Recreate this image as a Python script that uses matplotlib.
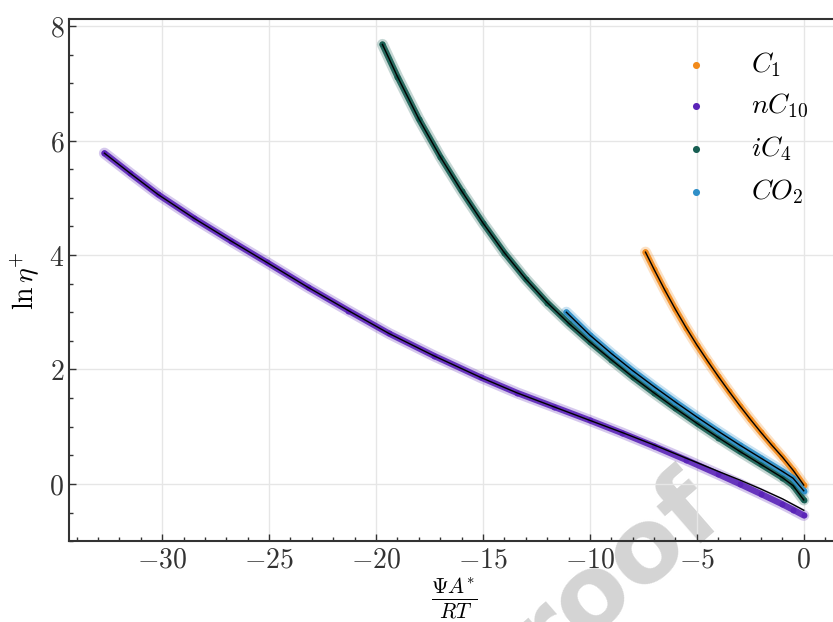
import matplotlib
matplotlib.use("Agg")
from matplotlib import pyplot as plt
from matplotlib.ticker import FuncFormatter, MultipleLocator

plt.rcParams["mathtext.fontset"] = "cm"
plt.rcParams["font.family"] = "serif"
plt.rcParams["font.serif"] = ["DejaVu Serif"]

# scaled residual entropy term vs. log of reduced viscosity
c1_x = [-7.4, -7.0, -6.5, -6.0, -5.5, -5.0, -4.5, -4.0, -3.5, -3.0, -2.5, -2.0, -1.5, -1.0, -0.5, 0.0]
c1_y = [4.05, 3.75, 3.39, 3.05, 2.73, 2.43, 2.15, 1.88, 1.62, 1.37, 1.13, 0.90, 0.68, 0.47, 0.24, -0.02]

nc10_x = [-32.7, -31.5, -30.2, -28.5, -26.8, -25.1, -23.2, -21.3, -19.4, -17.3, -15.1, -13.4,
          -11.7, -10.0, -8.5, -7.0, -5.5, -4.0, -3.0, -2.0, -1.0, -0.5, 0.0]
nc10_y = [5.78, 5.43, 5.06, 4.64, 4.25, 3.87, 3.44, 3.03, 2.63, 2.24, 1.86, 1.59,
          1.35, 1.11, 0.89, 0.66, 0.42, 0.17, 0.00, -0.175, -0.355, -0.45, -0.55]
nc10_fit_y = [5.78, 5.43, 5.06, 4.64, 4.25, 3.87, 3.44, 3.03, 2.63, 2.24, 1.86, 1.59,
              1.35, 1.11, 0.90, 0.68, 0.45, 0.22, 0.07, -0.09, -0.26, -0.36, -0.46]

ic4_x = [-19.7, -19.0, -18.0, -17.0, -16.0, -15.0, -14.0, -13.0, -12.0, -11.0, -10.0,
         -9.0, -8.0, -7.0, -6.0, -5.0, -4.0, -3.0, -2.0, -1.0, -0.5, 0.0]
ic4_y = [7.68, 7.12, 6.38, 5.72, 5.12, 4.56, 4.04, 3.58, 3.17, 2.81, 2.48,
         2.17, 1.87, 1.59, 1.32, 1.06, 0.81, 0.57, 0.34, 0.11, -0.03, -0.28]

co2_x = [-11.1, -10.0, -9.0, -8.0, -7.0, -6.0, -5.0, -4.0, -3.0, -2.0, -1.0, -0.5, 0.0]
co2_y = [3.00, 2.60, 2.28, 1.98, 1.70, 1.43, 1.17, 0.92, 0.68, 0.45, 0.22, 0.10, -0.12]

series = [
    ("$C_1$", c1_x, c1_y, c1_y, "#f28a1a"),
    ("$nC_{10}$", nc10_x, nc10_y, nc10_fit_y, "#5b24b8"),
    ("$iC_4$", ic4_x, ic4_y, ic4_y, "#175e52"),
    ("$CO_2$", co2_x, co2_y, co2_y, "#2f8fc8"),
]

fig = plt.figure(figsize=(8.33, 6.22), dpi=100)
ax = fig.add_axes([0.083, 0.130, 0.924, 0.839])
ax.set_facecolor("none")

for label, x, y, fit, color in series:
    ax.plot(x, y, color=color, lw=8, alpha=0.25, solid_capstyle="round", zorder=2)
    ax.plot(x, y, color=color, lw=4.5, alpha=0.9, solid_capstyle="round", zorder=3)
    ax.scatter(x, y, s=18, color=color, label=label, zorder=3, linewidths=0)
for label, x, y, fit, color in series:
    ax.plot(x, fit, color="black", lw=1.0, zorder=4)

ax.set_xlim(-34.35, 1.64)
ax.set_ylim(-1.0, 8.12)
ax.xaxis.set_major_locator(MultipleLocator(5))
ax.xaxis.set_minor_locator(MultipleLocator(1))
ax.yaxis.set_major_locator(MultipleLocator(2))
ax.yaxis.set_minor_locator(MultipleLocator(0.5))
fmt = FuncFormatter(lambda v, p: f"${v:g}$")
ax.xaxis.set_major_formatter(fmt)
ax.yaxis.set_major_formatter(fmt)
ax.tick_params(which="both", direction="in", labelsize=20, width=1.0, colors="#333333")
ax.tick_params(which="major", length=5)
ax.tick_params(which="minor", length=3)
ax.grid(True, which="major", color="#e6e6e6", lw=1.0)
for s in ax.spines.values():
    s.set_linewidth(1.5)
    s.set_color("#333333")

ax.set_ylabel(r"$\ln\eta^{+}$", fontsize=20, labelpad=6)
ax.set_xlabel(r"$\frac{\Psi A^{*}}{RT}$", fontsize=22, labelpad=2)

ax.legend(loc="upper right", frameon=False, fontsize=20, handletextpad=1.0,
          labelspacing=0.5, borderaxespad=0.7, markerscale=1.2)

fig.text(0.875, 0.158, "Journal Pre-proof", fontsize=75, fontweight="bold", color="#d4d4d4",
         rotation=41, rotation_mode="anchor", ha="right", va="baseline",
         family="DejaVu Sans", zorder=-1)

fig.savefig("out.png", dpi=100)
